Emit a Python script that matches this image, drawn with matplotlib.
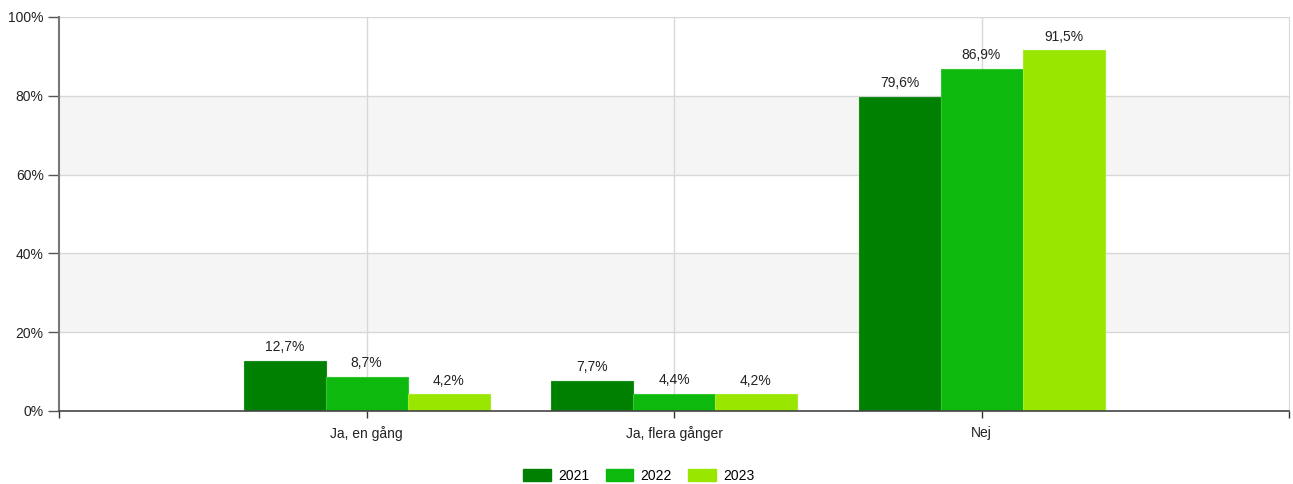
import matplotlib
matplotlib.use("Agg")
import matplotlib.pyplot as plt
import numpy as np
from matplotlib.patches import Patch

plt.rcParams['font.family'] = ['Liberation Sans', 'DejaVu Sans']

categories = ["Ja, en gång", "Ja, flera gånger", "Nej"]
years = ["2021", "2022", "2023"]
values_2021 = [12.7, 7.7, 79.6]
values_2022 = [8.7, 4.4, 86.9]
values_2023 = [4.2, 4.2, 91.5]
series = [values_2021, values_2022, values_2023]
colors = ["#008000", "#0cb90c", "#99e600"]
edge_colors = ["#1a8c1a", "#33c633", "#a8ea26"]
yticks = [0, 20, 40, 60, 80, 100]

fig = plt.figure(figsize=(12.93, 4.84), dpi=100)
ax = fig.add_axes([59/1293, 73/484, 1230/1293, 394/484])

# bands
for lo in (20, 60):
    ax.axhspan(lo, lo + 20, color="#f5f5f5", zorder=0, lw=0)
for y in yticks[1:]:
    ax.axhline(y, color="#d8d8d8", lw=1, zorder=1)
x = np.arange(1, len(categories) + 1)
for xi in x:
    ax.axvline(xi, color="#d8d8d8", lw=1, zorder=1)

bw = 0.8 / 3
for i, (vals, c, ec) in enumerate(zip(series, colors, edge_colors)):
    pos = x + (i - 1) * bw
    ax.bar(pos, vals, width=bw, color=c, edgecolor=ec, lw=0.8, zorder=2)
    for p, v in zip(pos, vals):
        ax.annotate(f"{v:.1f}".replace(".", ",") + "%", (p, v),
                    xytext=(0, 5), textcoords="offset points",
                    ha="center", va="bottom", fontsize=10, color="#222222")

ax.set_xlim(0, 4)
ax.set_ylim(0, 100)
ax.set_yticks(yticks)
ax.set_yticklabels([f"{t}%" for t in yticks], fontsize=10, color="#222222")
ax.set_xticks([0, 1, 2, 3, 4])
ax.set_xticklabels([""] + categories + [""], fontsize=10, color="#222222")
ax.tick_params(axis="y", length=8, width=1, color="#555555", pad=3)
ax.tick_params(axis="x", length=5, width=1, color="#333333", pad=6)

ax.spines["top"].set_visible(False)
ax.spines["right"].set_color("#d8d8d8")
ax.spines["left"].set_color("#777777")
ax.spines["bottom"].set_color("#444444")
ax.spines["left"].set_linewidth(1.5)
ax.spines["bottom"].set_linewidth(1.2)

handles = [Patch(facecolor=c, edgecolor=c, label=y) for c, y in zip(colors, years)]
fig.legend(handles=handles, loc="center", bbox_to_anchor=(0.494, 8/484), ncol=3,
           frameon=False, fontsize=10, handlelength=2.0, handleheight=0.9,
           columnspacing=1.2, handletextpad=0.5)

fig.savefig("out.png", dpi=100)
